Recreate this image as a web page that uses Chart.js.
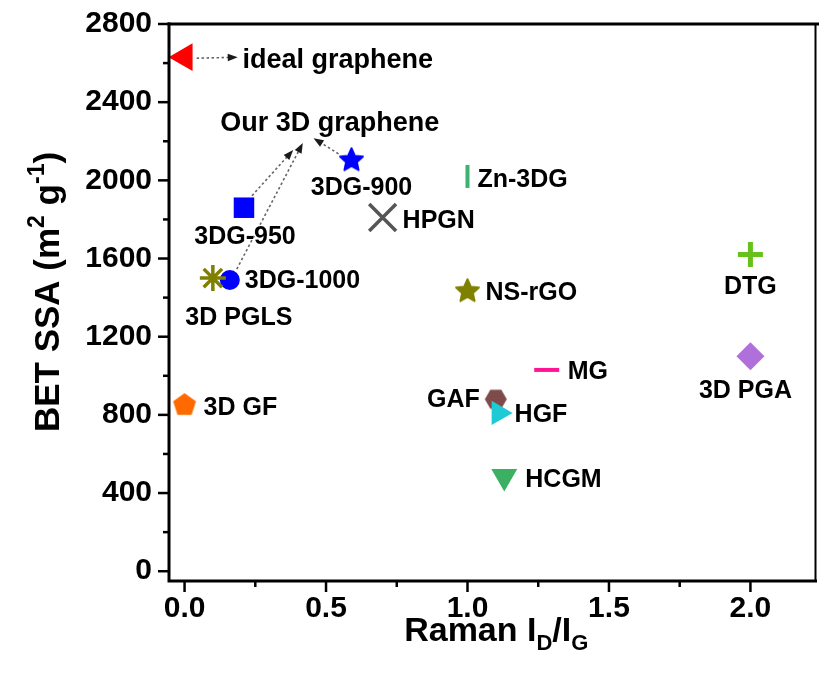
<!DOCTYPE html>
<html><head><meta charset="utf-8">
<script src="https://cdn.jsdelivr.net/npm/chart.js@4.4.0/dist/chart.umd.min.js"></script>
<style>html,body{margin:0;padding:0;background:#fff;}#wrap{width:838px;height:676px;position:relative;}</style>
</head><body><div id="wrap"><canvas id="c" width="838" height="676"></canvas></div>
<script>
// ---------------- data ----------------
const names = ['ideal graphene','3D PGLS','3DG-1000','3DG-950','3DG-900','HPGN','Zn-3DG','NS-rGO','DTG','3D PGA','MG','HGF','GAF','HCGM','3D GF'];
const ramanRatio = [0.00, 0.10, 0.16, 0.21, 0.59, 0.70, 1.00, 1.00, 2.00, 2.00, 1.28, 1.11, 1.10, 1.13, 0.00];
const betSSA     = [2630, 1500, 1490, 1860, 2110, 1810, 2020, 1440, 1620, 1100, 1030, 810, 880, 485, 850];
const xTickValues = [0, 0.5, 1.0, 1.5, 2.0];
const xMinorTicks = [0.25, 0.75, 1.25, 1.75];
const yTickValues = [0, 400, 800, 1200, 1600, 2000, 2400, 2800];
const yMinorTicks = [200, 600, 1000, 1400, 1800, 2200, 2600];
const xTitle = [['Raman I',0],['D',-1],['/I',0],['G',-1]];
const yTitle = [['BET SSA (m',0],['2',1],[' g',0],['-1',1],[')',0]];
const groupLabel = 'Our 3D graphene';

// ---------------- styles ----------------
const FONT = '"Liberation Sans", Arial, Helvetica, sans-serif';
function makeCanvas(size, draw){const c=document.createElement('canvas');c.width=size;c.height=size;const g=c.getContext('2d');draw(g,size);return c;}
function starImg(color,size){return makeCanvas(size,(g,s)=>{const R=s/2-1.5,r=R*0.47;g.beginPath();for(let i=0;i<10;i++){const a=-Math.PI/2+i*Math.PI/5;const rr=i%2?r:R;g.lineTo(s/2+rr*Math.cos(a),s/2+1.5+rr*Math.sin(a));}g.closePath();g.fillStyle=color;g.fill();g.lineJoin='round';g.lineWidth=2;g.strokeStyle=color;g.stroke();});}
function polyImg(color,size,n,start){return makeCanvas(size,(g,s)=>{const R=s/2-1;g.beginPath();for(let i=0;i<n;i++){const a=start+i*2*Math.PI/n;g.lineTo(s/2+R*Math.cos(a),s/2+R*Math.sin(a));}g.closePath();g.fillStyle=color;g.fill();});}

const markerStyles = {
 'ideal graphene':{shape:'triangle',color:'#ff0000',r:16,rot:-90},
 '3D PGLS':{shape:'star',color:'#808000',r:13,bw:3.5},
 '3DG-1000':{shape:'circle',color:'#0000ff',r:10},
 '3DG-950':{shape:'rect',color:'#0000ff',r:14.5},
 '3DG-900':{shape:starImg('#0000ff',27)},
 'HPGN':{shape:'crossRot',color:'#555555',r:19,bw:3.5},
 'Zn-3DG':{shape:'line',color:'#3cb371',r:11.5,rot:90,bw:4},
 'NS-rGO':{shape:starImg('#808000',27)},
 'DTG':{shape:'cross',color:'#66c21a',r:12.5,bw:5},
 '3D PGA':{shape:'rectRot',color:'#b070dc',r:14},
 'MG':{shape:'line',color:'#ff1493',r:12.5,bw:4},
 'HGF':{shape:'triangle',color:'#1ecbd4',r:14,rot:90},
 'GAF':{shape:polyImg('#7f4a4a',24,6,0)},
 'HCGM':{shape:'triangle',color:'#3cb062',r:15,rot:180},
 '3D GF':{shape:polyImg('#ff6a00',26,5,-Math.PI/2)}
};
// label placement relative to marker (px): dx, dy(baseline), align, font size
const labelPlacement = {
 'ideal graphene':[58,11,'left',27],
 '3D PGLS':[26,47,'center',25],
 '3DG-1000':[15,8,'left',25],
 '3DG-950':[1,36,'center',25],
 '3DG-900':[10,36,'center',25],
 'HPGN':[20,11,'left',25],
 'Zn-3DG':[10,11,'left',25],
 'NS-rGO':[18,10,'left',25],
 'DTG':[0,39,'center',25],
 '3D PGA':[-5,42,'center',25],
 'MG':[21,9,'left',25],
 'HGF':[16,9,'left',25],
 'GAF':[-16,8,'right',25],
 'HCGM':[21,11,'left',25],
 '3D GF':[19,10,'left',25]
};
const groupLabelAnchor = [0.513, 2253];
const arrows = [
 {from:'ideal graphene',dx:12,dy:1,to:[0.188,2630]},
 {from:'3DG-900',dx:-13,dy:-5,to:[0.456,2216]},
 {from:'3DG-950',dx:8,dy:-12,to:[0.384,2155]},
 {from:'3DG-1000',dx:7,dy:-11,to:[0.418,2191]}
];

const datasets = names.map((n,i)=>{
  const st = markerStyles[n];
  const isStroke = ['star','crossRot','cross','line'].includes(st.shape);
  return {
    label:n,
    data:[{x:ramanRatio[i],y:betSSA[i]}],
    pointStyle:st.shape,
    pointRadius:st.r||10,
    pointRotation:st.rot||0,
    pointBackgroundColor:st.color||'#000',
    pointBorderColor:st.color||'#000',
    pointBorderWidth:isStroke?st.bw:0,
    showLine:false,
    clip:false
  };
});

// ---------------- plugins ----------------
function richWidth(ctx,segs,big,small){let w=0;for(const [t,s] of segs){ctx.font='bold '+(s?small:big)+'px '+FONT;w+=ctx.measureText(t).width;}return w;}
function drawRich(ctx,segs,x,y,big,small){let cx=x;for(const [t,s] of segs){ctx.font='bold '+(s?small:big)+'px '+FONT;const off=s===1?-big*0.42:(s===-1?big*0.25:0);ctx.fillText(t,cx,y+off);cx+=ctx.measureText(t).width;}}
function arrowHead(ctx,x1,y1,x2,y2){const a=Math.atan2(y2-y1,x2-x1);const L=10,W=3.8;ctx.beginPath();ctx.moveTo(x2,y2);ctx.lineTo(x2-L*Math.cos(a)+W*Math.sin(a),y2-L*Math.sin(a)-W*Math.cos(a));ctx.lineTo(x2-L*Math.cos(a)-W*Math.sin(a),y2-L*Math.sin(a)+W*Math.cos(a));ctx.closePath();ctx.fill();}

const decor = {
  id:'decor',
  beforeDatasetsDraw(chart){
    const ctx=chart.ctx,xs=chart.scales.x,ys=chart.scales.y;
    ctx.save();
    for(const a of arrows){
      const i=names.indexOf(a.from);
      const x1=xs.getPixelForValue(ramanRatio[i])+a.dx,y1=ys.getPixelForValue(betSSA[i])+a.dy;
      const x2=xs.getPixelForValue(a.to[0]),y2=ys.getPixelForValue(a.to[1]);
      const ang=Math.atan2(y2-y1,x2-x1);
      ctx.strokeStyle='#666';ctx.lineWidth=1.6;ctx.setLineDash([2.5,2.5]);
      ctx.beginPath();ctx.moveTo(x1,y1);ctx.lineTo(x2-8*Math.cos(ang),y2-8*Math.sin(ang));ctx.stroke();
      ctx.setLineDash([]);ctx.fillStyle='#1a1a1a';arrowHead(ctx,x1,y1,x2,y2);
    }
    ctx.restore();
  },
  afterDatasetsDraw(chart){
    const ctx=chart.ctx,xs=chart.scales.x,ys=chart.scales.y,ca=chart.chartArea;
    ctx.save();
    ctx.fillStyle='#000';ctx.textBaseline='alphabetic';
    names.forEach((n,i)=>{
      const [dx,dy,al,sz]=labelPlacement[n];
      ctx.font='bold '+sz+'px '+FONT;ctx.textAlign=al;
      ctx.fillText(n,xs.getPixelForValue(ramanRatio[i])+dx,ys.getPixelForValue(betSSA[i])+dy);
    });
    ctx.font='bold 27px '+FONT;ctx.textAlign='center';
    ctx.fillText(groupLabel,xs.getPixelForValue(groupLabelAnchor[0]),ys.getPixelForValue(groupLabelAnchor[1]));
    // frame
    ctx.strokeStyle='#000';ctx.lineCap='square';
    ctx.lineWidth=3;
    ctx.beginPath();ctx.moveTo(ca.left,ca.top);ctx.lineTo(ca.left,ca.bottom);ctx.lineTo(ca.right,ca.bottom);ctx.stroke();
    ctx.lineWidth=3;ctx.beginPath();ctx.moveTo(ca.left,ca.top);ctx.lineTo(ca.right+2,ca.top);ctx.stroke();
    ctx.lineWidth=2;ctx.beginPath();ctx.moveTo(ca.right,ca.top);ctx.lineTo(ca.right,ca.bottom);ctx.stroke();
    // ticks
    ctx.lineCap='butt';ctx.lineWidth=2.5;
    const tick=(x1,y1,x2,y2)=>{ctx.beginPath();ctx.moveTo(x1,y1);ctx.lineTo(x2,y2);ctx.stroke();};
    yTickValues.forEach(v=>{const y=ys.getPixelForValue(v);tick(ca.left,y,ca.left-11,y);});
    yMinorTicks.forEach(v=>{const y=ys.getPixelForValue(v);tick(ca.left,y,ca.left-6,y);});
    xTickValues.forEach(v=>{const x=xs.getPixelForValue(v);tick(x,ca.bottom,x,ca.bottom+11);});
    xMinorTicks.forEach(v=>{const x=xs.getPixelForValue(v);tick(x,ca.bottom,x,ca.bottom+6);});
    // axis titles
    ctx.textAlign='left';
    const wx=richWidth(ctx,xTitle,34,22);
    drawRich(ctx,xTitle,(ca.left+ca.right)/2+4-wx/2,641,34,22);
    ctx.translate(46,292);ctx.rotate(-Math.PI/2);
    const wy=richWidth(ctx,yTitle,35,23);
    drawRich(ctx,yTitle,-wy/2,12.5,35,23);
    ctx.restore();
  }
};

new Chart(document.getElementById('c'),{
  type:'scatter',
  data:{datasets},
  options:{
    responsive:false,animation:false,
    layout:{padding:{left:0,top:20,right:2,bottom:0}},
    plugins:{legend:{display:false},tooltip:{enabled:false}},
    scales:{
      x:{type:'linear',min:-0.055,max:2.23,
         afterBuildTicks:s=>{s.ticks=xTickValues.map(v=>({value:v}));},
         afterFit:s=>{s.height=95;},
         grid:{display:true,drawOnChartArea:false,color:'rgba(0,0,0,0)',tickLength:11},
         border:{display:false},
         ticks:{color:'#000',font:{family:FONT,size:30,weight:'bold'},padding:-1,maxRotation:0,autoSkip:false,callback:v=>Number(v).toFixed(1)}},
      y:{type:'linear',min:-50,max:2800,
         afterBuildTicks:s=>{s.ticks=yTickValues.map(v=>({value:v}));},
         afterFit:s=>{s.width=169;},
         grid:{display:true,drawOnChartArea:false,color:'rgba(0,0,0,0)',tickLength:11},
         border:{display:false},
         ticks:{color:'#000',font:{family:FONT,size:30,weight:'bold'},padding:6,autoSkip:false,callback:v=>String(v)}}
    }
  },
  plugins:[decor]
});
</script></body></html>
